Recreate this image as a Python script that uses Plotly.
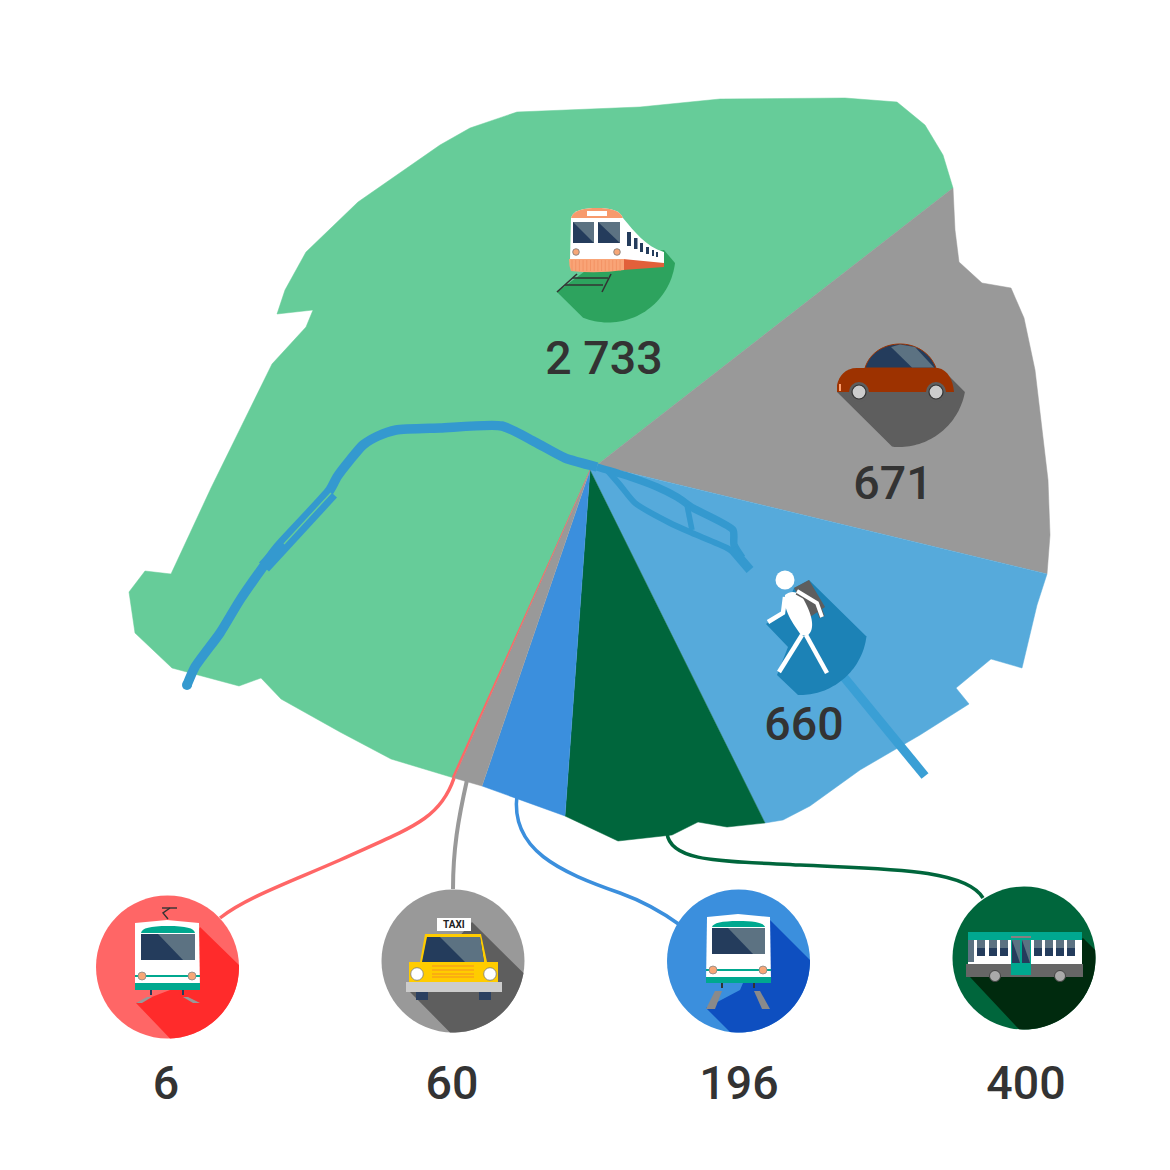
import math
import plotly.graph_objects as go

# ---- data -----------------------------------------------------------
MODES = ["Train", "Voiture", "Marche", "Bus", "Métro", "Taxi", "Tramway"]
VALUES = [2733, 671, 660, 400, 196, 60, 6]
VALUE_TEXT = ["2 733", "671", "660", "400", "196", "60", "6"]
LABEL_X = [604, 893, 804, 1026, 739, 452, 166]
LABEL_Y = [362, 487, 728, 1087, 1087, 1087, 1087]

GREEN = "#66CC99"; GREY = "#999999"; LBLUE = "#56AADB"; DGREEN = "#00663C"; MBLUE = "#3B8FDD"; RED = "#FF6666"
RIVER = "#3499CF"; TEAL = "#00A88F"; DARK = "#243C5C"; SLATE = "#5C7282"; PEACH = "#F7A777"; SHADE = "#5E5E5E"

GREEN_X = [597,953,943,925,897,845,720,640,517,470,440,358,306,285,277,313,306,272,211,171,145,129,135,172,239,261,281,340,391,454,590]
GREEN_Y = [465,188,155,125,102,98,99,107,112,128,145,202,252,290,314,310,327,364,488,574,571,592,633,668,686,678,699,732,759,778,470]
CAR_X = [597,953,955,959,982,1011,1024,1035,1048,1050,1047]
CAR_Y = [465,188,230,262,283,288,318,370,480,535,574]
WALK_X = [590,597,1047,1037,1022,991,956,969,920,860,810,783,765]
WALK_Y = [470,465,574,605,668,659,688,704,735,770,806,820,823]
BUS_X = [590,765,727,698,672,618,565]
BUS_Y = [470,823,827,822,835,841,816]
METRO_X = [590,565,482]
METRO_Y = [470,816,786]
TAXI_X = [590,482,454]
TAXI_Y = [470,786,778]
TRAM_X = [590,454,452]
TRAM_Y = [470,778,777]

RIV_WEST_X = [187,195,220,240,263,277,330,337,350,363,378,396,440,502,535,565,597]
RIV_WEST_Y = [685,667,633,600,567,548,490,477,460,445,436,430,428,426,442,458,467]
RIV_EAST_X = [597,630,657,677,693,733,734,742]
RIV_EAST_Y = [467,477,487,497,508,530,545,558]
RIV_LOW_X = [607,620,635,670,692,727,742]
RIV_LOW_Y = [470,485,503,523,533,548,558]
RIV_CROSS_X = [687,689,692]
RIV_CROSS_Y = [505,518,530]
RIV_MOUTH_X = [732,750]
RIV_MOUTH_Y = [549,570]
RIV_WIDE_X = [264,283,332]
RIV_WIDE_Y = [567,546,493]
RIV_SOUTH_X = [843,925]
RIV_SOUTH_Y = [676,776]
ISLAND_X = [284,331]
ISLAND_Y = [544,493]

fig = go.Figure()

def poly(xs, ys, color, name):
    fig.add_trace(go.Scatter(x=xs, y=ys, mode="lines", fill="toself", fillcolor=color, name=name,
                             line=dict(color=color, width=0.5), hoverinfo="name", showlegend=False))

def riv(xs, ys, w, color=RIVER, spline=False):
    fig.add_trace(go.Scatter(x=xs, y=ys, mode="lines",
                             line=dict(color=color, width=w, shape="spline" if spline else "linear", smoothing=0.6),
                             hoverinfo="skip", showlegend=False))

poly(GREEN_X, GREEN_Y, GREEN, MODES[0])
poly(CAR_X, CAR_Y, GREY, MODES[1])
poly(WALK_X, WALK_Y, LBLUE, MODES[2])
poly(BUS_X, BUS_Y, DGREEN, MODES[3])
poly(METRO_X, METRO_Y, MBLUE, MODES[4])
poly(TAXI_X, TAXI_Y, GREY, MODES[5])
poly(TRAM_X, TRAM_Y, RED, MODES[6])

riv(RIV_WEST_X, RIV_WEST_Y, 9.5, spline=True)
riv(RIV_EAST_X, RIV_EAST_Y, 7.5, spline=True)
riv(RIV_LOW_X, RIV_LOW_Y, 6, spline=True)
riv(RIV_CROSS_X, RIV_CROSS_Y, 5.5)
riv(RIV_MOUTH_X, RIV_MOUTH_Y, 9)
riv(RIV_WIDE_X, RIV_WIDE_Y, 13.5)
riv(ISLAND_X, ISLAND_Y, 1.4, GREEN)
riv(RIV_SOUTH_X, RIV_SOUTH_Y, 9, "#3A9FD5")

fig.add_trace(go.Scatter(x=LABEL_X, y=LABEL_Y, mode="text", text=VALUE_TEXT, hoverinfo="skip", showlegend=False,
                         textposition="middle center",
                         textfont=dict(family="Roboto", size=46.5, color="#333333", weight=500)))
fig.add_trace(go.Scatter(x=RIV_WEST_X[:1], y=RIV_WEST_Y[:1], mode="markers", marker=dict(size=10, color=RIVER),
                         hoverinfo="skip", showlegend=False))

shapes = []

def path(d, fill=None, line=None, w=0):
    s = dict(type="path", path=d, xref="x", yref="y", layer="above")
    s["fillcolor"] = fill if fill else "rgba(0,0,0,0)"
    s["line"] = dict(color=line if line else "rgba(0,0,0,0)", width=w)
    shapes.append(s)

def pts(p, close=True):
    return "M" + " L".join(f"{x:.1f},{y:.1f}" for x, y in p) + (" Z" if close else "")

def P(p, fill):
    path(pts(p), fill=fill)

def L(p, color, w):
    path(pts(p, False), line=color, w=w)

def rect(x0, y0, x1, y1, fill):
    P([(x0,y0),(x1,y0),(x1,y1),(x0,y1)], fill)

def circ(cx, cy, r, fill, line=None, w=0):
    shapes.append(dict(type="circle", xref="x", yref="y", layer="above", x0=cx-r, x1=cx+r, y0=cy-r, y1=cy+r,
                       fillcolor=fill, line=dict(color=line if line else "rgba(0,0,0,0)", width=w)))

def arc(cx, cy, r, start, end):
    """points on a circle between two boundary points (screen coords), short way"""
    a0 = math.atan2(start[1]-cy, start[0]-cx); a1 = math.atan2(end[1]-cy, end[0]-cx)
    d = (a1-a0+math.pi) % (2*math.pi) - math.pi
    return [(cx+r*math.cos(a0+d*i/40), cy+r*math.sin(a0+d*i/40)) for i in range(41)]

def shadow(cx, cy, r, lead, a, b, tail, fill):
    P(lead + arc(cx, cy, r, a, b) + tail, fill)

def window(x0, y0, x1, y1, dx0, dx1):
    rect(x0, y0, x1, y1, DARK)
    P([(dx0,y0),(x1,y0),(x1,y1),(dx1,y1)], SLATE)

# connectors
path("M454,778 C440,820 410,828 340,860 C290,882 245,898 220,918", line=RED, w=3.5)
path("M467,780 C458,820 453,850 453,889", line=GREY, w=4)
path("M517,795 C510,850 560,872 620,893 C645,902 662,912 680,925", line=MBLUE, w=3.5)
path("M667,833 C670,862 720,861 800,865 C880,869 965,868 983,898", line=DGREEN, w=3.5)

# --- train
shadow(608, 255, 67.5, [(557,292)], (583,318), (675,263), [(664,250),(600,260)], "#2DA35E")
for p in ([(557,292),(577,274)], [(602,292),(611,274)], [(573,278),(608,278)], [(565,285),(603,285)]):
    L(p, "#333333", 1.6)
path("M623,218 C635,232 645,246 664,252 L664,264 L623,262 Z", fill="white")
path("M623,259 L664,263 L664,267 L623,270 Z", fill="#E2603A")
path("M571,218 C573,210 585,208 597,208 C609,208 620,210 623,218 L623,260 L570,260 Z", fill="white")
path("M571,218 C573,210 585,208 597,208 C609,208 620,210 623,218 Z", fill="#F79A6C")
rect(587, 211, 607, 216, "white")
window(573, 222, 594, 243, 573, 594)
window(598, 222, 620, 243, 598, 620)
circ(576, 252, 3.3, PEACH, "#777777", 0.8)
circ(617, 252, 3.3, PEACH, "#777777", 0.8)
path("M569,259 L624,259 L624,270 Q597,274 571,271 Q569,266 569,259 Z", fill="#F9A477")
for i in range(14):
    x = 572 + i*3.7
    L([(x,260),(x,271)], "#F08C5C", 0.7)
for x0, y0, y1, w in ((627,232,246,4),(634,238,249,3.5),(640,243,252,3),(646,247,254,3),(652,250,256,2),(656,252,257,2)):
    rect(x0, y0, x0+w, y1, DARK)

# --- car
shadow(899, 380, 67, [(837,392)], (892,447), (965,392), [(950,377)], SHADE)
path("M865,368 C870,352 885,344 900,344 C915,344 930,352 936,368 Z", fill=DARK, line="#9D3200", w=1)
P([(891,347),(900,344.5),(915,347),(934,367.5),(912,367.5)], SLATE)
path("M837,392 L837,385 C839,376 845,368 857,368 L938,368 C948,370 953,380 954,392 Z", fill="#9D3200")
shapes_wheel = [(859,392),(936,392)]
for x, y in shapes_wheel:
    circ(x, y, 10, SHADE)
    circ(x, y, 7, "#CCCCCC", "#333333", 1.2)
path("M839,384 L841,384 L841,391 L839,391 Z", fill="#FFA070")

# --- walker
P([(809,580),(867,637)] + arc(800,628,67,(867,637),(798,695)) + [(777,675),(788,647),(766,624),(785,610),(794,588)], "#1C82B6")
P([(794,588),(809,580),(825,607),(810,617)], SHADE)
circ(785, 580, 9.5, "white")
path("M785,595 C792,589 801,592 805,602 C812,615 816,630 807,636 L801,635 C793,623 783,611 785,595 Z", fill="white")
L([(785,597),(783,613),(768,622)], "white", 4.5)
L([(797,592),(817,603),(822,617)], SHADE, 5.5)
L([(797,591),(817,603),(822,617)], "white", 3.8)
L([(802,635),(779,672)], "white", 4.5)
L([(806,635),(827,673)], "white", 4.5)

# --- tram (red)
circ(167.5, 967, 71.5, RED)
shadow(167.5, 967, 71.5, [(136,1003)], (170,1038.5), (239,965), [(200,927),(170,990)], "#FF2B2B")
L([(162,908),(177,908)], "#333333", 1.4)
L([(170,908),(163,913),(168,919)], "#333333", 1.4)
P([(135,923),(167,920),(199,923),(200,990),(135,990)], "white")
path("M141,933 C142,928 150,926 168,926 C186,926 194,928 195,933 Z", fill=TEAL)
window(141, 934, 195, 960, 158, 183)
rect(135, 975, 200, 977, TEAL)
rect(135, 983, 200, 990, TEAL)
circ(142, 976, 4, PEACH, "#888888", 0.8)
circ(192, 976, 4, PEACH, "#888888", 0.8)
rect(150, 990, 152, 995, DARK); rect(182, 990, 184, 995, DARK)
P([(136,1003),(147,997),(152,997),(142,1003)], "#999999")
P([(183,997),(188,997),(200,1003),(193,1003)], "#999999")

# --- taxi
circ(453, 961, 71.5, GREY)
shadow(453, 961, 71.5, [(410,992)], (450,1032.4), (523,973), [(472,922)], SHADE)
P([(425,934),(481,934),(487,962),(420,962)], "#FFCC00")
P([(427,937),(480,937),(484,962),(422,962)], DARK)
P([(440,937),(480,937),(484,962),(465,962)], SLATE)
rect(409, 962, 498, 982, "#FFCC00")
for y in (966, 970, 974, 977):
    L([(432,y),(474,y)], "#F79020", 1.2)
circ(417, 974, 6.3, "white", "#777777", 0.8)
circ(490, 974, 6.3, "white", "#777777", 0.8)
rect(406, 982, 502, 992, "#CCCCCC")
rect(416, 992, 428, 1000, "#2B4060"); rect(479, 992, 491, 1000, "#2B4060")
rect(437, 918, 471, 931, "white")

# --- metro (blue)
circ(738.5, 961, 71.5, MBLUE)
shadow(738.5, 961, 71.5, [(706,1008)], (730,1032), (810,960), [(770,920),(740,990)], "#0E4FC0")
P([(707,917),(738,914),(770,917),(771,983),(706,983)], "white")
path("M712,927 C713,923 722,921 738,921 C755,921 764,923 765,927 Z", fill=TEAL)
window(712, 928, 765, 954, 728, 753)
rect(706, 969, 771, 971, TEAL)
rect(706, 977, 771, 983, TEAL)
circ(713, 970, 4, PEACH, "#888888", 0.8)
circ(763, 970, 4, PEACH, "#888888", 0.8)
rect(721, 983, 723, 988, "#333333"); rect(753, 983, 755, 988, "#333333")
P([(715,991),(722,991),(715,1009),(706,1009)], "#8A8A8A")
P([(754,991),(760,991),(770,1009),(762,1009)], "#8A8A8A")

# --- bus
circ(1024, 958, 71.5, DGREEN)
shadow(1024, 958, 71.5, [(970,977)], (1019,1029.3), (1095,950), [(1083,938),(1040,970)], "#002A0E")
rect(968, 932, 1082, 940, TEAL)
rect(968, 940, 1082, 964, "white")
P([(966,964),(1083,964),(1083,977),(966,977)], "#666666")
rect(968, 940, 974, 962, SLATE)
for x in (977, 989, 1000, 1034, 1045, 1056, 1067):
    rect(x, 940, x+8, 948, SLATE)
    rect(x, 948, x+8, 956, DARK)
rect(1011, 936, 1031, 938, "#8A7E80")
rect(1011, 938, 1031, 975, TEAL)
window(1012, 940, 1020, 963, 1012, 1020)
window(1022, 940, 1030, 963, 1022, 1030)
for x in (995, 1060):
    circ(x, 976, 5.5, "#AAAAAA", "#444444", 1)

annotations = [dict(x=454, y=924.5, xref="x", yref="y", text="<b>TAXI</b>", showarrow=False,
                    font=dict(family="Roboto", size=10, color="#222222"))]

fig.update_layout(
    width=1162, height=1162, margin=dict(l=0, r=0, t=0, b=0), autosize=False,
    paper_bgcolor="white", plot_bgcolor="white", showlegend=False, shapes=shapes, annotations=annotations,
    xaxis=dict(range=[8, 1170], visible=False, fixedrange=True),
    yaxis=dict(range=[1170, 8], visible=False, fixedrange=True),
)
fig.write_html("out.html", config=dict(displayModeBar=False))
